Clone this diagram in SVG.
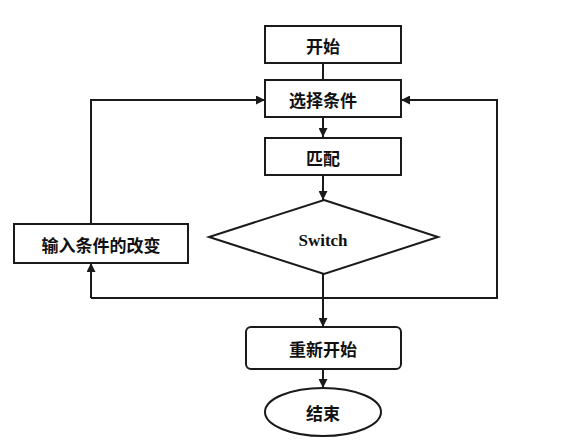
<svg xmlns="http://www.w3.org/2000/svg" width="573" height="448" viewBox="0 0 573 448">
<style>
.box{fill:#fff;stroke:#1a1a1a;stroke-width:2}
.ln{fill:none;stroke:#1a1a1a;stroke-width:2}
.t{font-family:"Noto Sans CJK SC","Noto Sans",sans-serif;font-size:17px;font-weight:bold;fill:#111;text-anchor:middle;dominant-baseline:central}
.s{font-family:"Liberation Serif",serif;font-size:17px;font-weight:bold;fill:#111;text-anchor:middle;dominant-baseline:central}
</style>
<defs>
<marker id="ah" viewBox="0 0 10 10" refX="10" refY="5" markerWidth="10" markerHeight="9" markerUnits="userSpaceOnUse" orient="auto">
<path d="M0,0 L10,5 L0,10 Z" fill="#1a1a1a"/>
</marker>
</defs>
<rect width="573" height="448" fill="#fff"/>
<g id="connectors">
<line class="ln" x1="323" y1="63" x2="323" y2="79"/>
<line class="ln" x1="323" y1="117" x2="323" y2="137" marker-end="url(#ah)"/>
<line class="ln" x1="323" y1="175" x2="323" y2="200" marker-end="url(#ah)"/>
<line class="ln" x1="323" y1="274" x2="323" y2="327" marker-end="url(#ah)"/>
<line class="ln" x1="323" y1="369" x2="323" y2="388" marker-end="url(#ah)"/>
<polyline class="ln" points="91,224 91,100 265,100" marker-end="url(#ah)"/>
<polyline class="ln" points="91,298 497,298 497,100 401,100" marker-end="url(#ah)"/>
<line class="ln" x1="91" y1="298" x2="91" y2="263" marker-end="url(#ah)"/>
</g>
<g id="start">
<rect class="box" x="265" y="26" width="136" height="37"/>
<text class="t" x="323" y="45">开始</text>
</g>
<g id="select">
<rect class="box" x="265" y="80" width="136" height="37"/>
<text class="t" x="323" y="99">选择条件</text>
</g>
<g id="match">
<rect class="box" x="265" y="138" width="136" height="37"/>
<text class="t" x="323" y="157">匹配</text>
</g>
<g id="switch">
<polygon class="box" points="324,200 438,237 324,274 209,237"/>
<text class="s" x="323" y="240">Switch</text>
</g>
<g id="input">
<rect class="box" x="14" y="224" width="174" height="39"/>
<text class="t" x="101" y="244">输入条件的改变</text>
</g>
<g id="restart">
<rect class="box" x="246" y="327" width="155" height="42" rx="5"/>
<text class="t" x="323" y="348">重新开始</text>
</g>
<g id="end">
<ellipse class="box" cx="323" cy="412" rx="58" ry="24"/>
<text class="t" x="323" y="412">结束</text>
</g>
</svg>
